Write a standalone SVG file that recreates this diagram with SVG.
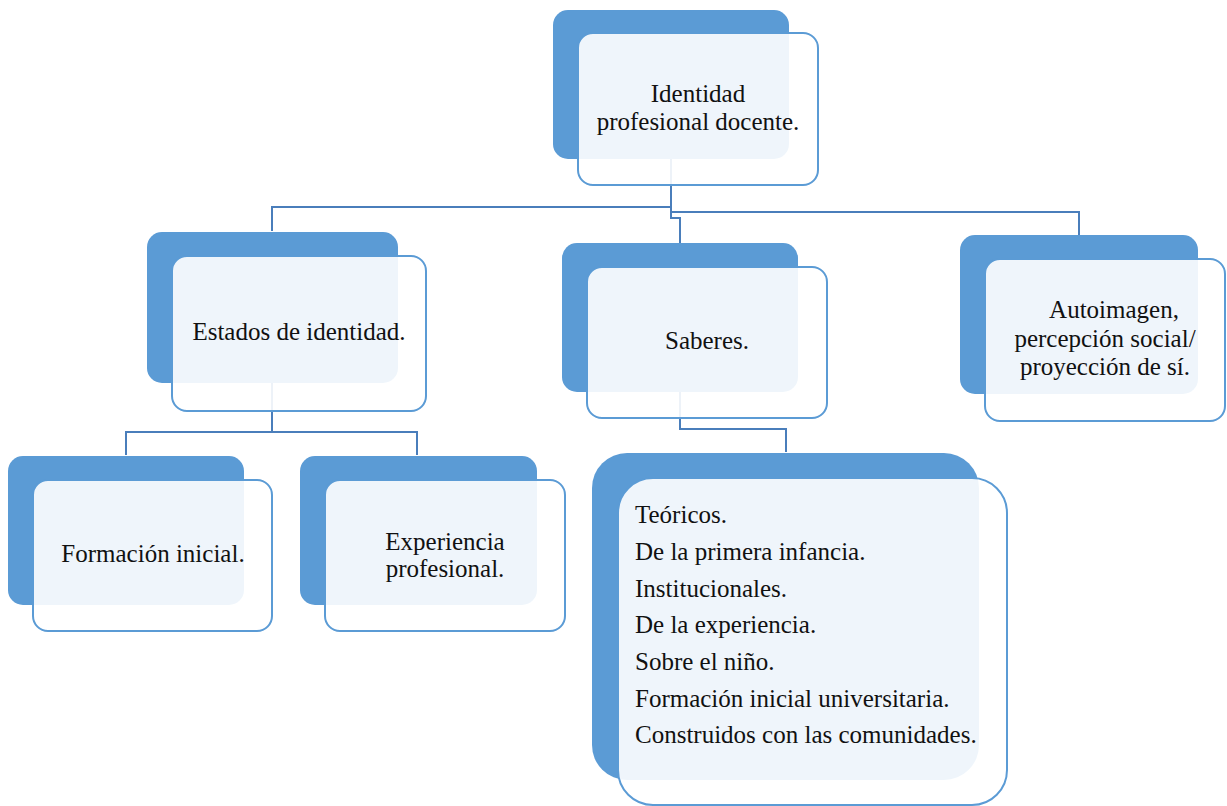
<svg xmlns="http://www.w3.org/2000/svg" width="1227" height="806" viewBox="0 0 1227 806">
<style>
.back{fill:#5B9BD5;}
.front{fill:#FFFFFF;fill-opacity:0.9;stroke:#5B9BD5;stroke-width:2;}
.conn{fill:none;stroke:#4A7EBB;stroke-width:2;}
.t{font-size:25px;fill:#111111;}
.c{text-anchor:middle;}
</style>
<rect width="1227" height="806" fill="#FFFFFF"/>
<g id="connectors">
<polyline class="conn" points="671,159 671,218 680,218 680,243"/>
<polyline class="conn" points="272,231 272,207 671,207"/>
<polyline class="conn" points="671,212 1079,212 1079,235"/>
<polyline class="conn" points="272,383 272,432"/>
<polyline class="conn" points="126,455 126,432 417,432 417,455"/>
<polyline class="conn" points="680,392 680,429 786,429 786,452"/>
</g>
<g font-family="Liberation Serif, Tinos, Times New Roman, DejaVu Serif, serif">
<g id="node-identidad">
<rect class="back" x="553" y="10" width="236" height="149" rx="15"/>
<rect class="front" x="578" y="33" width="240" height="152" rx="15"/>
<text class="t c" x="698" y="102">Identidad</text>
<text class="t c" x="698" y="130">profesional docente.</text>
</g>
<g id="node-estados">
<rect class="back" x="147" y="232" width="251" height="151" rx="15"/>
<rect class="front" x="172" y="256" width="254" height="155" rx="15"/>
<text class="t c" x="299" y="340">Estados de identidad.</text>
</g>
<g id="node-saberes">
<rect class="back" x="562" y="243" width="236" height="149" rx="15"/>
<rect class="front" x="587" y="267" width="240" height="151" rx="15"/>
<text class="t c" x="707" y="349">Saberes.</text>
</g>
<g id="node-autoimagen">
<rect class="back" x="960" y="235" width="238" height="159" rx="15"/>
<rect class="front" x="985" y="259" width="240" height="162" rx="15"/>
<text class="t c" x="1114" y="318">Autoimagen,</text>
<text class="t c" x="1105" y="347">percepción social/</text>
<text class="t c" x="1105" y="375">proyección de sí.</text>
</g>
<g id="node-formacion">
<rect class="back" x="8" y="456" width="236" height="149" rx="15"/>
<rect class="front" x="33" y="480" width="239" height="151" rx="15"/>
<text class="t c" x="153" y="562">Formación inicial.</text>
</g>
<g id="node-experiencia">
<rect class="back" x="300" y="456" width="237" height="149" rx="15"/>
<rect class="front" x="325" y="480" width="240" height="151" rx="15"/>
<text class="t c" x="445" y="550">Experiencia</text>
<text class="t c" x="445" y="577">profesional.</text>
</g>
<g id="node-saberes-lista">
<rect class="back" x="592" y="453" width="387" height="327" rx="35"/>
<rect class="front" x="618" y="478" width="389" height="327" rx="35"/>
<text class="t" x="635" y="523">Teóricos.</text>
<text class="t" x="635" y="560">De la primera infancia.</text>
<text class="t" x="635" y="597">Institucionales.</text>
<text class="t" x="635" y="633">De la experiencia.</text>
<text class="t" x="635" y="670">Sobre el niño.</text>
<text class="t" x="635" y="707">Formación inicial universitaria.</text>
<text class="t" x="635" y="743">Construidos con las comunidades.</text>
</g>
</g>
</svg>
